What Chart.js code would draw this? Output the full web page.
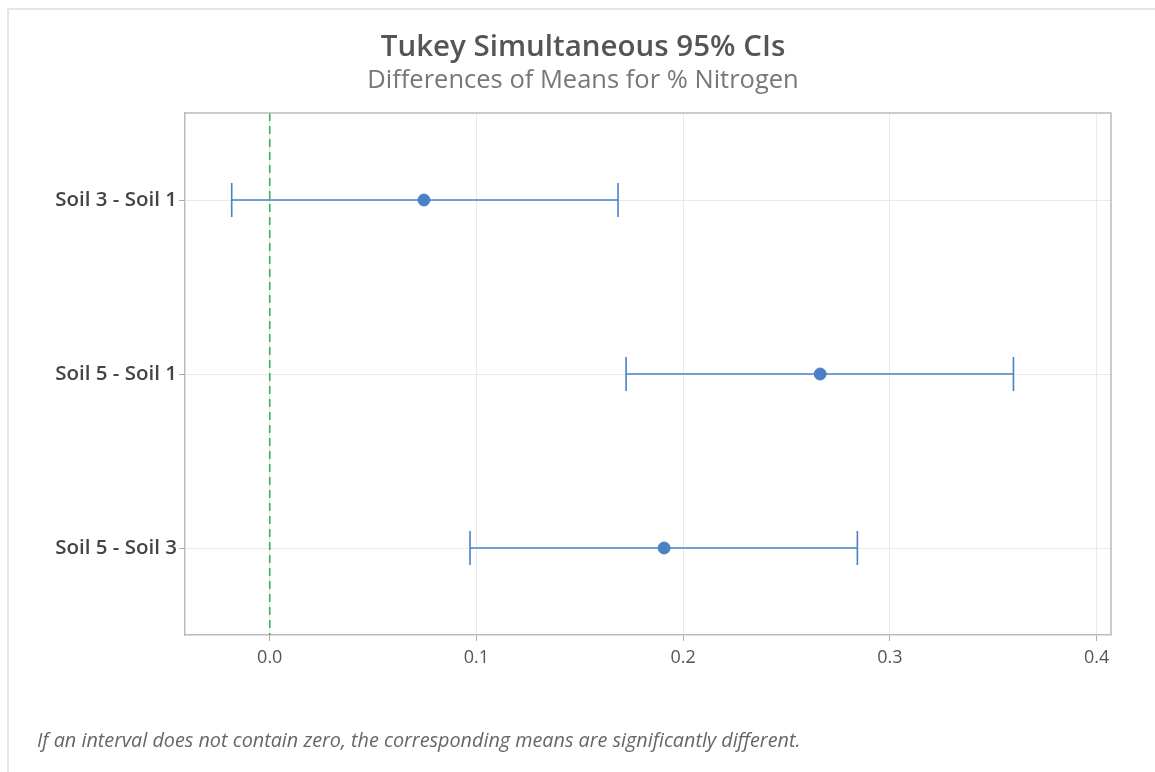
<!DOCTYPE html>
<html>
<head>
<meta charset="utf-8">
<script src="https://cdn.jsdelivr.net/npm/chart.js@4"></script>
<style>
  html, body { margin: 0; padding: 0; background: #fff; }
  #wrap { position: relative; width: 1155px; height: 772px; overflow: hidden; }
  #frame { position: absolute; left: 7px; top: 8px; width: 1200px; height: 800px;
           border-left: 2px solid #e6e6e6; border-top: 2px solid #e6e6e6; }
  #c { position: absolute; left: 0; top: 0; }
  #note { position: absolute; left: 37px; top: 726px; font-family: "Open Sans", sans-serif;
          font-style: italic; font-size: 19.8px; color: #666; white-space: nowrap; }
</style>
</head>
<body>
<div id="wrap">
  <div id="frame"></div>
  <canvas id="c" width="1155" height="772"></canvas>
  <div id="note">If an interval does not contain zero, the corresponding means are significantly different.</div>
</div>
<script>
const categories = ["Soil 3 - Soil 1", "Soil 5 - Soil 1", "Soil 5 - Soil 3"];
const means = [0.0746, 0.2663, 0.1908];
const lowers = [-0.0184, 0.1724, 0.0969];
const uppers = [0.1685, 0.3598, 0.2843];
const xTicks = [0.0, 0.1, 0.2, 0.3, 0.4];

const blue = "#4a80c4";
const datasets = [];

// zero reference line
datasets.push({
  type: "line",
  data: [{x: 0, y: 0.5}, {x: 0, y: 3.5}],
  borderColor: "#3dae5b",
  borderWidth: 1.6,
  borderDash: [8, 5],
  pointRadius: 0,
  showLine: true,
  order: 5
});

categories.forEach((cat, i) => {
  datasets.push({
    type: "line",
    data: [{x: lowers[i], y: i + 1}, {x: uppers[i], y: i + 1}],
    borderColor: blue,
    borderWidth: 1.6,
    pointStyle: "line",
    rotation: 90,
    pointRadius: 17,
    pointBorderWidth: 1.6,
    pointBorderColor: blue,
    pointHoverRadius: 17,
    showLine: true,
    order: 2
  });
});

datasets.push({
  type: "scatter",
  data: categories.map((c, i) => ({x: means[i], y: i + 1})),
  backgroundColor: blue,
  borderColor: blue,
  pointStyle: "circle",
  pointRadius: 6,
  order: 1
});

new Chart(document.getElementById("c"), {
  type: "scatter",
  data: { datasets },
  options: {
    responsive: false,
    animation: false,
    layout: { padding: { left: 55, right: 44, top: 30, bottom: 0 } },
    plugins: {
      legend: { display: false },
      tooltip: { enabled: false },
      title: {
        display: true,
        text: "Tukey Simultaneous 95% CIs",
        color: "#555",
        font: { family: "Open Sans", size: 29.5, weight: "600" },
        padding: { top: 0, bottom: 0 }
      },
      subtitle: {
        display: true,
        text: "Differences of Means for % Nitrogen",
        color: "#777",
        font: { family: "Open Sans", size: 25.5, weight: "normal" },
        padding: { top: 0, bottom: 17 }
      }
    },
    scales: {
      x: {
        type: "linear",
        min: -0.041,
        max: 0.407,
        afterBuildTicks: (s) => { s.ticks = xTicks.map(v => ({value: v})); },
        ticks: {
          color: "#555",
          font: { family: "Open Sans", size: 18 },
          padding: 6,
          callback: (v) => Number(v).toFixed(1)
        },
        grid: { color: "#e9e9e9", tickColor: "#aaa", tickLength: 6, drawTicks: true },
        border: { color: "#bbb", width: 1.5 },
        afterFit: (s) => { s.height = 137; }
      },
      y: {
        type: "linear",
        min: 0.5,
        max: 3.5,
        reverse: true,
        afterBuildTicks: (s) => { s.ticks = categories.map((c, i) => ({value: i + 1})); },
        ticks: {
          color: "#444",
          font: { family: "Open Sans", size: 20.5, weight: "600" },
          padding: 2,
          callback: (v) => categories[Math.round(v) - 1]
        },
        grid: { color: "#e9e9e9", tickColor: "#aaa", tickLength: 6 },
        border: { color: "#bbb", width: 1.5 },
        afterFit: (s) => { s.width = 130; }
      }
    }
  },
  plugins: [{
    id: "frameBox",
    afterDraw(chart) {
      const a = chart.chartArea, ctx = chart.ctx;
      ctx.save();
      ctx.strokeStyle = "#bbb";
      ctx.lineWidth = 1.5;
      ctx.beginPath();
      ctx.moveTo(a.left, a.top); ctx.lineTo(a.right, a.top); ctx.lineTo(a.right, a.bottom);
      ctx.stroke();
      ctx.restore();
    }
  }]
});
</script>
</body>
</html>
